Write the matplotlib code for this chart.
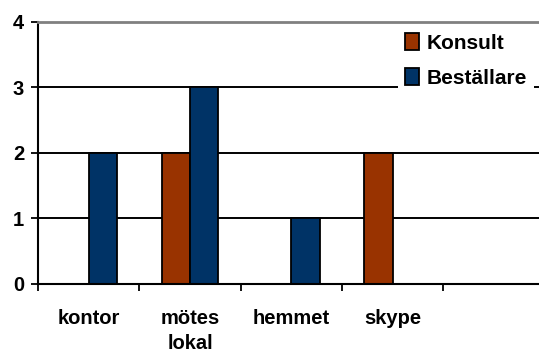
import numpy as np
import matplotlib
matplotlib.use("Agg")
import matplotlib.pyplot as plt

categories = ["kontor", "mötes\nlokal", "hemmet", "skype", ""]
konsult = [0, 2, 0, 2, 0]
bestallare = [2, 3, 1, 0, 0]
series_names = ["Konsult", "Beställare"]
yticks = [0, 1, 2, 3, 4]

plt.rcParams['font.family'] = ['Liberation Sans', 'DejaVu Sans']
plt.rcParams['font.weight'] = 'bold'

fig = plt.figure(figsize=(5.39, 3.53), dpi=100)
# plot area runs past the right edge of the picture, like the original
ax = fig.add_axes([0.0705, 0.1955, 0.9397, 0.7422])

x = np.arange(len(categories))
w = 0.28
ax.bar(x - w / 2, konsult, w, color="#993300", edgecolor="black", linewidth=1.3,
       label=series_names[0], zorder=3)
ax.bar(x + w / 2, bestallare, w, color="#003366", edgecolor="black", linewidth=1.3,
       label=series_names[1], zorder=3)

ax.set_xlim(-0.5, len(categories) - 0.5)
ax.set_ylim(0, 4)

# gridlines
for y in yticks[1:-1]:
    ax.axhline(y, color="black", linewidth=1.4, zorder=1)

ax.spines['top'].set_color("#808080")
ax.spines['top'].set_linewidth(2)
ax.spines['right'].set_visible(False)
ax.spines['left'].set_linewidth(1.5)
ax.spines['bottom'].set_linewidth(1.5)
ax.spines['bottom'].set_zorder(4)

ax.set_yticks(yticks)
ax.tick_params(axis='y', length=5, width=1.3, labelsize=14.5, pad=5)
for t in ax.get_yticklabels():
    t.set_fontweight('bold')

ax.set_xticks(x)
ax.set_xticklabels(categories, fontsize=14.5, fontweight='bold', linespacing=1.4)
ax.set_xticks(np.arange(len(categories) + 1) - 0.5, minor=True)
ax.tick_params(axis='x', which='major', length=0, pad=18)
ax.tick_params(axis='x', which='minor', length=5, width=1.3)

leg = ax.legend(loc='upper left', bbox_to_anchor=(398 / 539, 1 - 26 / 353),
                bbox_transform=fig.transFigure, fontsize=15, frameon=True,
                fancybox=False, edgecolor='none', facecolor='white', framealpha=1,
                handlelength=0.65, handleheight=0.85, handletextpad=0.35,
                labelspacing=0.75, borderpad=0.35, borderaxespad=0)
leg.set_zorder(5)
for t in leg.get_texts():
    t.set_fontweight('bold')

fig.savefig("out.png", dpi=100)
